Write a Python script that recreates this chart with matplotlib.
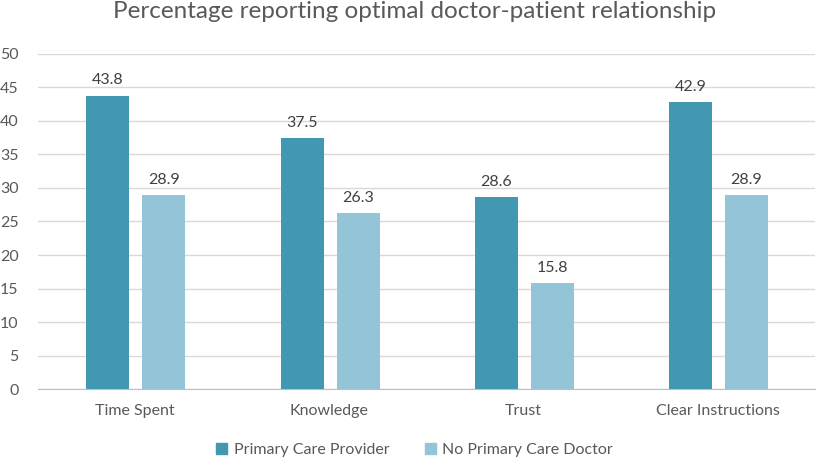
import numpy as np
import matplotlib.pyplot as plt
from matplotlib.patches import Patch

plt.rcParams['font.family'] = ['Lato', 'DejaVu Sans']

categories = ['Time Spent', 'Knowledge', 'Trust', 'Clear Instructions']
pcp_values = [43.8, 37.5, 28.6, 42.9]
no_pcp_values = [28.9, 26.3, 15.8, 28.9]
series_names = ['Primary Care Provider', 'No Primary Care Doctor']

dark = '#4198B0'
light = '#93C4D7'
text_col = '#595959'

fig = plt.figure(figsize=(8.29, 4.63), dpi=100)
ax = fig.add_axes([0.0458, 0.1598, 0.9372, 0.7236])

x = np.arange(len(categories))
w = 0.222
b1 = ax.bar(x - 0.14, pcp_values, w, color=dark, zorder=3)
b2 = ax.bar(x + 0.148, no_pcp_values, w, color=light, zorder=3)

for bars, vals in [(b1, pcp_values), (b2, no_pcp_values)]:
    for rect, v in zip(bars, vals):
        ax.text(rect.get_x() + rect.get_width() / 2, v + 1.2, f'{v:.1f}',
                ha='center', va='bottom', fontsize=11.5, color='#404040')

ax.set_xlim(-0.5, 3.5)
ax.set_ylim(0, 50)
ax.set_yticks(range(0, 51, 5))
ax.set_xticks(x)
ax.set_xticklabels(categories)
ax.yaxis.grid(True, color='#D9D9D9', linewidth=1, zorder=0)
for s in ['top', 'right', 'left']:
    ax.spines[s].set_visible(False)
ax.spines['bottom'].set_color('#BFBFBF')
ax.tick_params(axis='both', length=0, labelsize=11.5, colors=text_col)
ax.tick_params(axis='x', pad=11)
ax.tick_params(axis='y', pad=14)

fig.suptitle('Percentage reporting optimal doctor-patient relationship',
             y=0.997, fontsize=17.5, color=text_col)

handles = [Patch(color=dark), Patch(color=light)]
fig.legend(handles, series_names, loc='center', bbox_to_anchor=(0.5, 0.028),
           ncol=2, frameon=False, fontsize=11.5, handlelength=0.7,
           handleheight=0.7, columnspacing=2.2, handletextpad=0.4,
           labelcolor=text_col)

fig.savefig('out.png', dpi=100)
